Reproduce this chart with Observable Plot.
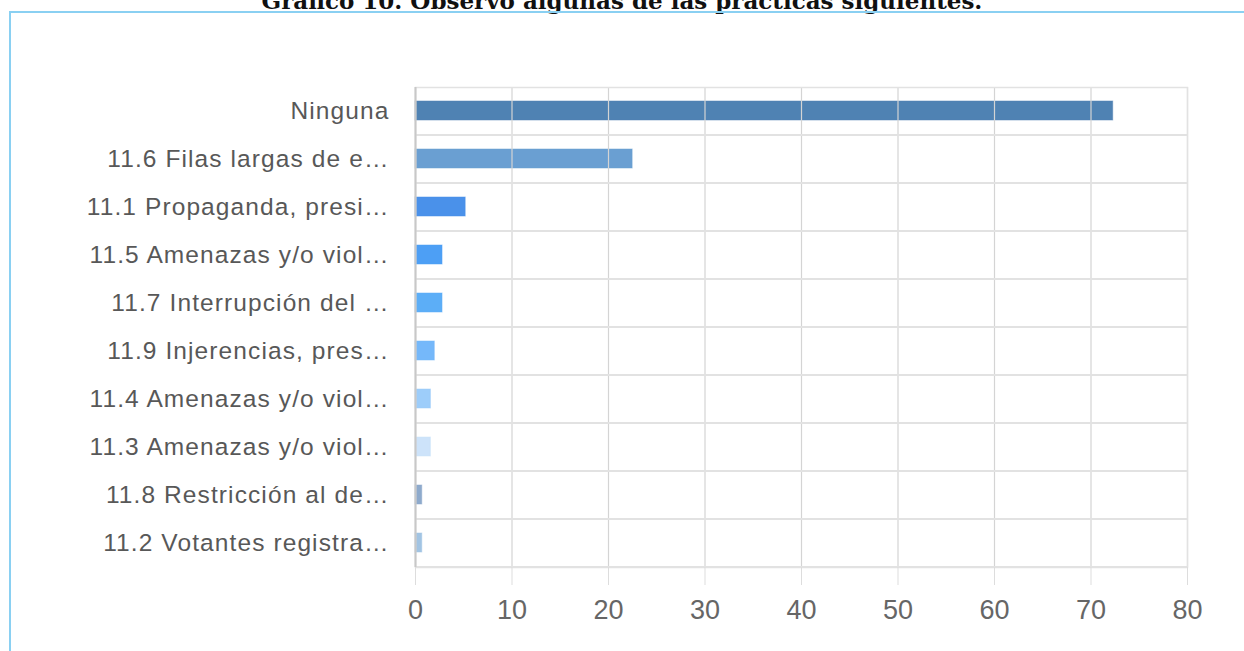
<!DOCTYPE html>
<html>
<head>
<meta charset="utf-8">
<script src="https://cdn.jsdelivr.net/npm/d3@7"></script>
<script src="https://cdn.jsdelivr.net/npm/@observablehq/plot@0.6"></script>
<style>
  html, body { margin: 0; padding: 0; background: #fff; width: 1244px; height: 651px; overflow: hidden; }
  #wrap { position: relative; width: 1244px; height: 651px; }
  #title { position: absolute; left: 0; width: 1244px; top: -13px; text-align: center;
           font-family: "DejaVu Serif", serif; font-weight: bold; font-size: 23px; color: #111; white-space: nowrap; }
  #box { position: absolute; left: 9px; top: 11px; width: 1240px; height: 650px;
         border-top: 2px solid #8ad0f2; border-left: 2px solid #8ad0f2; }
  #chart { position: absolute; left: 0; top: 0; }
  #chart svg g[aria-label="y-axis tick label"] text { letter-spacing: 1.1px; }
</style>
</head>
<body>
<div id="wrap">
  <div id="title">Gráfico 10. Observó algunas de las prácticas siguientes.</div>
  <div id="box"></div>
  <div id="chart"></div>
</div>
<script>
const categories = [
  "Ninguna",
  "11.6 Filas largas de e…",
  "11.1 Propaganda, presi…",
  "11.5 Amenazas y/o viol…",
  "11.7 Interrupción del …",
  "11.9 Injerencias, pres…",
  "11.4 Amenazas y/o viol…",
  "11.3 Amenazas y/o viol…",
  "11.8 Restricción al de…",
  "11.2 Votantes registra…"
];
const values = [72.3, 22.5, 5.2, 2.8, 2.8, 2.0, 1.6, 1.6, 0.7, 0.7];
const colors = ["#4f82b3", "#6a9fd2", "#4a91ea", "#4d9ff5", "#5caef7", "#75b8fa", "#9dcdfa", "#cde3fa", "#8eaacc", "#a2c4e3"];
const xTicks = [0, 10, 20, 30, 40, 50, 60, 70, 80];

const data = categories.map((c, i) => ({category: c, value: values[i], color: colors[i]}));

const chart = Plot.plot({
  width: 1244,
  height: 651,
  marginLeft: 415,
  marginRight: 57,
  marginTop: 87,
  marginBottom: 84,
  style: {background: "transparent", fontFamily: "'Liberation Sans', Arial, sans-serif"},
  x: {domain: [0, 80], ticks: xTicks},
  y: {domain: categories, paddingInner: 0.6, paddingOuter: 0.3, align: 0.5},
  marks: [
    Plot.barX(data, {x: "value", y: "category", fill: "color", stroke: "color", strokeOpacity: 0.5}),
    Plot.gridX(xTicks, {stroke: "#d4d4d4", strokeOpacity: 1, strokeWidth: 1.2}),
    Plot.tickY(categories, {y: d => d, dy: 24, stroke: "#e2e2e2", strokeWidth: 2}),
    Plot.frame({stroke: "#e2e2e2", strokeWidth: 1.5}),
    Plot.ruleX([0], {stroke: "#c8c8c8", strokeWidth: 2}),
    Plot.axisX(xTicks, {tickSize: 18, tickPadding: 14, fontSize: 27, fill: "#666", stroke: "#ddd", label: null}),
    Plot.axisY({tickSize: 0, tickPadding: 26, fontSize: 24.5, fill: "#585858", label: null})
  ]
});
document.getElementById("chart").appendChild(chart);
</script>
</body>
</html>
